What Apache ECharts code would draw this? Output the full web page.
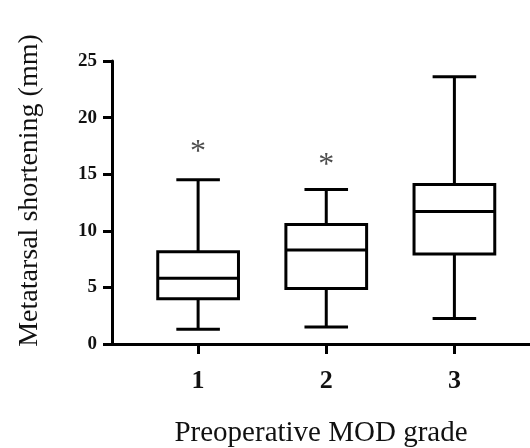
<!DOCTYPE html>
<html>
<head>
<meta charset="utf-8">
<style>
  html, body { margin: 0; padding: 0; background: #fff; }
  #main { width: 530px; height: 448px; }
</style>
<script src="https://cdn.jsdelivr.net/npm/echarts@6/dist/echarts.min.js"></script>
</head>
<body>
<div id="main"></div>
<script>
// grades on the x axis
var grades = [1, 2, 3];
// [min, Q1, median, Q3, max] per grade (mm)
var boxStats = [
  [1.3, 4.0, 5.8, 8.15, 14.5],
  [1.5, 4.9, 8.3, 10.55, 13.65],
  [2.25, 7.95, 11.7, 14.1, 23.6]
];
// significance markers
var starGrades = [1, 2];
var starValues = [17.6, 16.5];
var yTicks = [0, 5, 10, 15, 20, 25];

var font = '"Liberation Serif", "DejaVu Serif", serif';
var myChart = echarts.init(document.getElementById('main'));

var boxData = grades.map(function (g, i) {
  return [g].concat(boxStats[i]);
});
var starData = starGrades.map(function (g, i) {
  return [g, starValues[i]];
});

function renderBox(params, api) {
  var x = api.value(0);
  var lo = api.coord([x, api.value(1)]);
  var q1 = api.coord([x, api.value(2)]);
  var md = api.coord([x, api.value(3)]);
  var q3 = api.coord([x, api.value(4)]);
  var hi = api.coord([x, api.value(5)]);
  var boxW = api.size([0.63, 0])[0];
  var capW = api.size([0.34, 0])[0];
  var cx = lo[0];
  var st = { stroke: '#000', lineWidth: 3, fill: null };
  return {
    type: 'group',
    children: [
      { type: 'rect', shape: { x: cx - boxW / 2, y: q3[1], width: boxW, height: q1[1] - q3[1] }, style: st },
      { type: 'line', shape: { x1: cx - boxW / 2, y1: md[1], x2: cx + boxW / 2, y2: md[1] }, style: st },
      { type: 'line', shape: { x1: cx, y1: q3[1], x2: cx, y2: hi[1] }, style: st },
      { type: 'line', shape: { x1: cx, y1: q1[1], x2: cx, y2: lo[1] }, style: st },
      { type: 'line', shape: { x1: cx - capW / 2, y1: hi[1], x2: cx + capW / 2, y2: hi[1] }, style: st },
      { type: 'line', shape: { x1: cx - capW / 2, y1: lo[1], x2: cx + capW / 2, y2: lo[1] }, style: st }
    ]
  };
}

myChart.setOption({
  animation: false,
  grid: { left: 112, right: 0, top: 61, bottom: 104, outerBoundsMode: 'none', containLabel: false },
  xAxis: {
    type: 'value',
    min: 0.328,
    max: 3.59,
    name: 'Preoperative MOD grade',
    nameLocation: 'middle',
    nameGap: 75,
    nameTextStyle: { fontFamily: font, fontSize: 29, color: '#111' },
    splitLine: { show: false },
    axisLine: { show: true, onZero: false, lineStyle: { color: '#000', width: 3 } },
    axisTick: { show: true, customValues: grades, length: 10, lineStyle: { color: '#000', width: 3 } },
    axisLabel: {
      customValues: grades,
      fontFamily: font, fontSize: 26, fontWeight: 'bold', color: '#111', margin: 24
    }
  },
  yAxis: {
    type: 'value',
    min: 0,
    max: 25,
    interval: 5,
    name: 'Metatarsal shortening (mm)',
    nameLocation: 'middle',
    nameGap: 68,
    nameTextStyle: { fontFamily: font, fontSize: 28, color: '#111', padding: [0, 0, 0, 24] },
    splitLine: { show: false },
    axisLine: { show: true, lineStyle: { color: '#000', width: 3 } },
    axisTick: { show: true, length: 9, lineStyle: { color: '#000', width: 3 } },
    axisLabel: {
      customValues: yTicks,
      fontFamily: font, fontSize: 19, fontWeight: 'bold', color: '#111', margin: 15
    }
  },
  series: [
    {
      type: 'custom',
      renderItem: renderBox,
      encode: { x: 0, y: [1, 2, 3, 4, 5] },
      data: boxData,
      clip: false
    },
    {
      type: 'scatter',
      symbolSize: 0,
      data: starData,
      label: {
        show: true,
        position: 'inside',
        formatter: '*',
        fontFamily: font,
        fontSize: 32,
        color: '#222',
        offset: [0, 8]
      }
    }
  ]
});
</script>
</body>
</html>
